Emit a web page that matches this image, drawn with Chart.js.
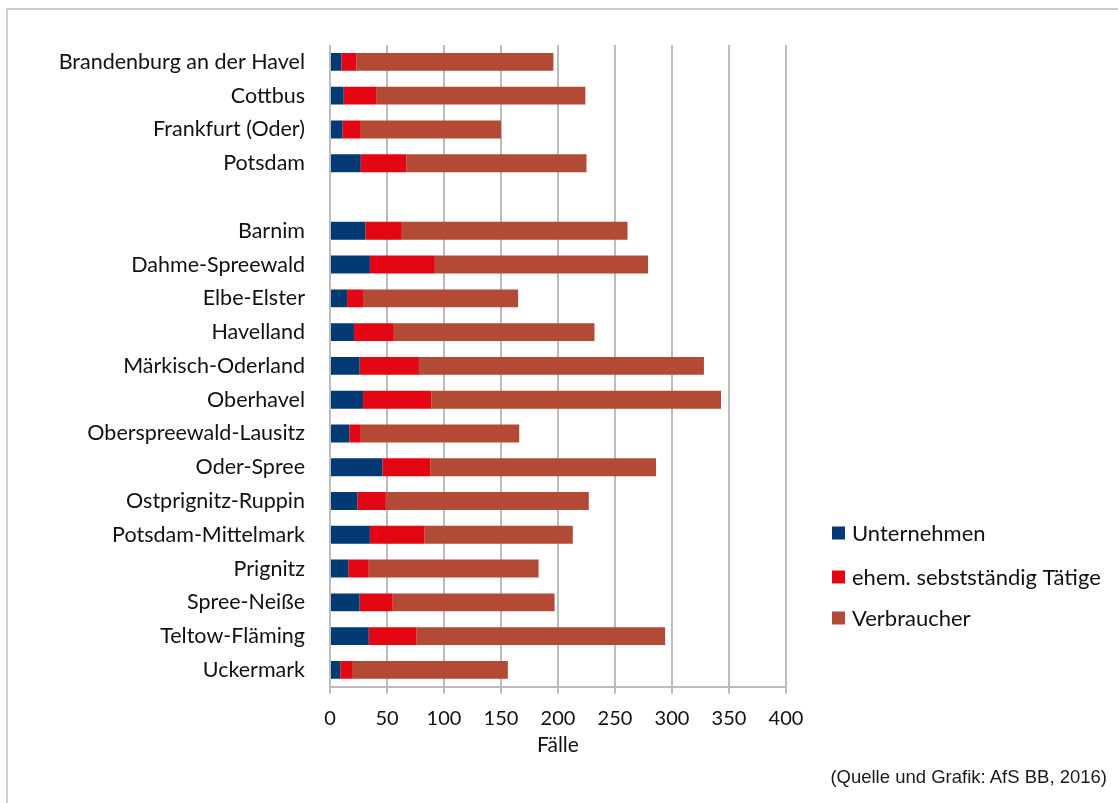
<!DOCTYPE html>
<html lang="de">
<head>
<meta charset="utf-8">
<title>Fälle nach Kreisen</title>
<script src="https://cdn.jsdelivr.net/npm/chart.js@4/dist/chart.umd.min.js"></script>
<style>
  html, body { margin: 0; padding: 0; background: #ffffff; overflow: hidden; }
  #wrap { position: relative; width: 1118px; height: 803px; }
  #frame {
    position: absolute; left: 6px; top: 8px; width: 1200px; height: 900px;
    border-left: 2px solid #cfcfcf; border-top: 2px solid #cfcfcf;
    pointer-events: none;
  }
  #quelle {
    position: absolute; right: 11px; top: 766px; line-height: 21px;
    font-family: "Liberation Sans", Arial, sans-serif; font-size: 18.5px; color: #1a1a1a;
  }
  canvas { position: absolute; left: 0; top: 0; }
</style>
</head>
<body>
<div id="wrap">
  <canvas id="chart" width="1118" height="803"></canvas>
  <div id="frame"></div>
  <div id="quelle">(Quelle und Grafik: AfS BB, 2016)</div>
</div>
<script>
// Kreisfreie Städte, dann (nach einer Leerzeile) die Landkreise
const categories = [
  "Brandenburg an der Havel", "Cottbus", "Frankfurt (Oder)", "Potsdam",
  "",
  "Barnim", "Dahme-Spreewald", "Elbe-Elster", "Havelland", "Märkisch-Oderland",
  "Oberhavel", "Oberspreewald-Lausitz", "Oder-Spree", "Ostprignitz-Ruppin",
  "Potsdam-Mittelmark", "Prignitz", "Spree-Neiße", "Teltow-Fläming", "Uckermark"
];

const seriesNames = ["Unternehmen", "ehem. sebstständig Tätige", "Verbraucher"];

// Fälle je Gruppe (null = Leerzeile)
const unternehmen = [10, 12, 11, 27, null, 31, 35, 15, 21, 26, 29, 17, 46, 24, 35, 16, 26, 34, 9];
const ehemSelbst  = [13, 29, 16, 40, null, 32, 57, 14, 35, 52, 60, 10, 42, 25, 48, 18, 29, 42, 11];
const verbraucher = [173, 183, 123, 158, null, 198, 187, 136, 176, 250, 254, 139, 198, 178, 130, 149, 142, 218, 136];

const xTicks = [0, 50, 100, 150, 200, 250, 300, 350, 400];
const xTitle = "Fälle";

const colors = ["#033a73", "#e30613", "#b34a35"];
const font = "Lato, 'Open Sans', sans-serif";

// Legende rechts neben dem Diagramm
const sideLegend = {
  id: "sideLegend",
  afterDraw(chart) {
    const ctx = chart.ctx;
    const x = chart.chartArea.right + 46;
    const ys = [533, 577, 618];
    ctx.save();
    ctx.font = "22px " + font;
    ctx.textBaseline = "middle";
    ctx.textAlign = "left";
    chart.data.datasets.forEach((ds, i) => {
      ctx.fillStyle = ds.backgroundColor;
      ctx.fillRect(x, ys[i] - 6.5, 13, 13);
      ctx.fillStyle = "#111111";
      ctx.fillText(ds.label, x + 20, ys[i] + 1);
    });
    ctx.restore();
  }
};

const seriesData = [unternehmen, ehemSelbst, verbraucher];

new Chart(document.getElementById("chart"), {
  type: "bar",
  data: {
    labels: categories,
    datasets: seriesData.map((d, i) => ({
      label: seriesNames[i],
      data: d,
      backgroundColor: colors[i],
      borderWidth: 0,
      barPercentage: 0.53,
      categoryPercentage: 1.0
    }))
  },
  options: {
    indexAxis: "y",
    responsive: false,
    animation: false,
    layout: { padding: { top: 45, right: 332, bottom: 45, left: 0 } },
    plugins: {
      legend: { display: false },
      tooltip: { enabled: false }
    },
    scales: {
      x: {
        stacked: true,
        min: 0,
        max: 400,
        afterBuildTicks(scale) { scale.ticks = xTicks.map(v => ({ value: v })); },
        grid: { color: "#bcbcbc", lineWidth: 2, tickLength: 7, drawTicks: true, tickColor: "#bcbcbc" },
        border: { display: true, color: "#bcbcbc", width: 2 },
        ticks: { color: "#111111", font: { family: font, size: 20 }, padding: 13 },
        title: { display: true, text: xTitle, color: "#111111", font: { family: font, size: 21 }, padding: { top: -11, bottom: 0 } }
      },
      y: {
        stacked: true,
        grid: { display: false, drawTicks: false },
        border: { display: false },
        ticks: { color: "#111111", font: { family: font, size: 21.5 }, padding: 25, autoSkip: false },
        afterFit(scale) { scale.width = 330; }
      }
    }
  },
  plugins: [sideLegend]
});
</script>
</body>
</html>
